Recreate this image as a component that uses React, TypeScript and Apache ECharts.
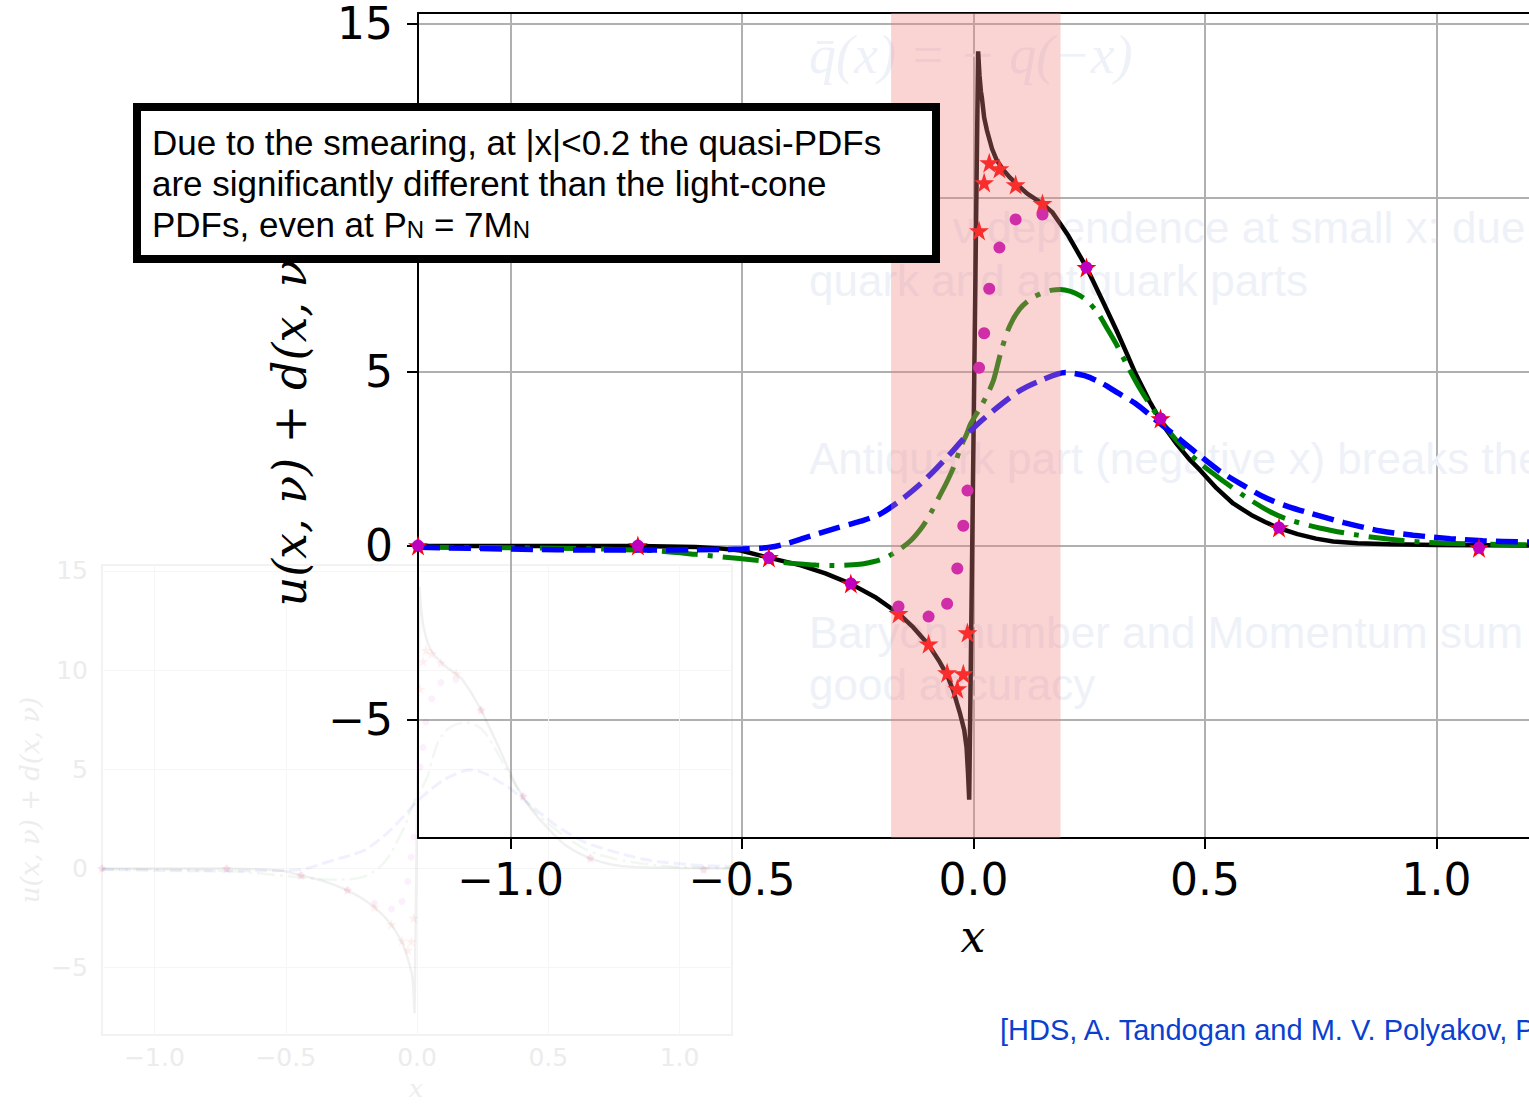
import React, { useEffect, useRef } from "react";
import * as echarts from "echarts";

// ---- light-cone PDF (black solid) ----
const blackX = [-1.2, -1.0, -0.85, -0.725, -0.6, -0.55, -0.503, -0.445, -0.373, -0.32, -0.265, -0.21, -0.162, -0.13, -0.097, -0.075, -0.056, -0.043, -0.029, -0.02, -0.015, -0.012, -0.0093,
  0.010, 0.013, 0.016, 0.018, 0.023, 0.029, 0.04, 0.0505, 0.065, 0.079, 0.1, 0.116, 0.148, 0.17, 0.187, 0.205, 0.223, 0.244, 0.258, 0.28, 0.309, 0.33, 0.35, 0.38, 0.404, 0.418, 0.44, 0.465, 0.49, 0.525, 0.561, 0.6, 0.63, 0.656, 0.7, 0.74, 0.777, 0.83, 0.9, 1.0, 1.1, 1.2];
const blackY = [-0.01, -0.01, -0.01, -0.01, -0.04, -0.08, -0.14, -0.34, -0.57, -0.8, -1.1, -1.5, -1.95, -2.35, -2.85, -3.3, -3.75, -4.2, -4.83, -5.3, -5.8, -6.5, -7.3,
  14.2, 13.5, 13.05, 12.88, 12.3, 11.93, 11.4, 11.06, 10.78, 10.57, 10.3, 10.11, 9.83, 9.58, 9.25, 8.9, 8.48, 7.99, 7.61, 7.0, 6.18, 5.55, 4.94, 4.15, 3.6, 3.3, 2.9, 2.5, 2.16, 1.65, 1.21, 0.88, 0.68, 0.52, 0.33, 0.2, 0.12, 0.07, 0.04, 0.02, 0.01, 0.0];

// ---- green dash-dot ----
const greenX = [-1.2, -1.0, -0.8, -0.7, -0.6, -0.5, -0.46, -0.4, -0.34, -0.3, -0.26, -0.237, -0.2, -0.17, -0.136, -0.11, -0.093, -0.075, -0.056, -0.04, -0.028, -0.015, -0.006, 0.015, 0.03, 0.043, 0.06, 0.078, 0.1, 0.125, 0.149, 0.17, 0.188, 0.21, 0.23, 0.248, 0.27, 0.289, 0.31, 0.33, 0.36, 0.4, 0.44, 0.49, 0.54, 0.59, 0.64, 0.68, 0.75, 0.83, 0.9, 0.98, 1.1, 1.2];
const greenY = [-0.05, -0.06, -0.1, -0.14, -0.25, -0.38, -0.43, -0.5, -0.56, -0.57, -0.55, -0.52, -0.4, -0.2, 0.14, 0.55, 0.92, 1.38, 1.87, 2.35, 2.82, 3.2, 3.5, 3.97, 4.35, 4.74, 5.6, 6.3, 6.8, 7.1, 7.26, 7.34, 7.36, 7.3, 7.18, 7.0, 6.65, 6.23, 5.75, 5.23, 4.5, 3.68, 3.0, 2.36, 1.85, 1.38, 0.98, 0.75, 0.5, 0.3, 0.18, 0.09, 0.04, 0.02];

// ---- blue dashed ----
const blueX = [-1.2, -1.0, -0.8, -0.6, -0.5, -0.44, -0.4, -0.37, -0.3, -0.244, -0.2, -0.15, -0.1, -0.05, -0.006, 0.043, 0.1, 0.145, 0.199, 0.24, 0.278, 0.31, 0.35, 0.39, 0.43, 0.48, 0.53, 0.58, 0.63, 0.68, 0.73, 0.8, 0.88, 0.95, 1.03, 1.1, 1.2];
const blueY = [-0.05, -0.1, -0.13, -0.12, -0.1, -0.05, 0.07, 0.2, 0.49, 0.7, 0.92, 1.38, 1.95, 2.64, 3.3, 3.88, 4.45, 4.74, 4.97, 4.88, 4.66, 4.4, 4.08, 3.65, 3.22, 2.68, 2.16, 1.75, 1.38, 1.12, 0.92, 0.66, 0.42, 0.3, 0.2, 0.14, 0.1];

// ---- quasi-PDF points (red stars / magenta dots) ----
const pointX = [-1.2, -0.725, -0.442, -0.265, -0.162, -0.097, -0.057, -0.035, -0.022, -0.013, 0.012, 0.023, 0.034, 0.056, 0.091, 0.149, 0.244, 0.404, 0.66, 1.092];
const starY = [0.0, 0.0, -0.34, -1.09, -1.95, -2.82, -3.65, -4.11, -3.68, -2.5, 9.05, 10.43, 11.0, 10.83, 10.37, 9.83, 7.99, 3.65, 0.52, -0.06];
const dotY = [0.0, 0.0, -0.34, -1.09, -1.75, -2.04, -1.67, -0.66, 0.57, 1.58, 5.11, 6.1, 7.38, 8.56, 9.37, 9.51, 7.99, 3.65, 0.52, -0.06];

// ---- axes / band ----
const xTicks = [-1.0, -0.5, 0.0, 0.5, 1.0];
const yTicks = [-5, 0, 5, 10, 15];
const yLabelTicks = [-5, 0, 5, 15]; // the 10 label lies hidden under the annotation box
const xRange = [-1.2, 1.2];
const yRange = [-8.4, 15.3];
const bandRange = [-0.178, 0.188];

// ---- texts ----
const boxLines = [
  "Due to the smearing, at |x|<0.2 the quasi-PDFs",
  "are significantly different than the light-cone",
  "PDFs, even at P{s|N} = 7M{s|N}",
];
const faintTexts = [
  { t: "ν dependence at small x: due", x: 953, y: 227 },
  { t: "quark and antiquark parts", x: 809, y: 280 },
  { t: "Antiquark part (negative x) breaks the", x: 809, y: 458 },
  { t: "Baryon number and Momentum sum", x: 809, y: 632 },
  { t: "good accuracy", x: 809, y: 684 },
];
const citation = "[HDS, A. Tandogan and M. V. Polyakov, P";
const yLabel = "u(x, ν) + d(x, ν)";

const STAR = "path://M0,-1L0.2245,-0.309L0.951,-0.309L0.363,0.118L0.588,0.809L0,0.382L-0.588,0.809L-0.363,0.118L-0.951,-0.309L-0.2245,-0.309Z";

const pairs = (xs: number[], ys: number[]) => xs.map((x, i) => [x, ys[i]]);
const fmtX = (v: number) => (v < 0 ? "\u2212" + Math.abs(v).toFixed(1) : Math.abs(v).toFixed(1));
const fmtY = (v: number) => (v < 0 ? "\u2212" + Math.abs(v) : String(v));

function buildSeries(xi: number, yi: number, op: number, zBase: number) {
  const main = xi === 0;
  return [
    {
      type: "line", data: pairs(blackX, blackY), xAxisIndex: xi, yAxisIndex: yi, z: zBase,
      showSymbol: false, symbol: "none", smooth: false, silent: true,
      lineStyle: { color: "#000000", width: main ? 4.5 : 2.5, opacity: op },
    },
    {
      type: "line", data: pairs(greenX, greenY), xAxisIndex: xi, yAxisIndex: yi, z: zBase + 1,
      showSymbol: false, symbol: "none", smooth: 0.3, silent: true,
      lineStyle: { color: "#008000", width: main ? 5 : 2.5, type: main ? [36, 10, 5, 10] : [18, 5, 3, 5], opacity: op },
    },
    {
      type: "line", data: pairs(blueX, blueY), xAxisIndex: xi, yAxisIndex: yi, z: zBase + 2,
      showSymbol: false, symbol: "none", smooth: 0.3, silent: true,
      lineStyle: { color: "#0000ff", width: main ? 5.5 : 3, type: main ? [22, 9] : [12, 5], opacity: op },
    },
    {
      type: "scatter", data: pairs(pointX, starY), xAxisIndex: xi, yAxisIndex: yi, z: zBase + 3,
      symbol: STAR, symbolSize: main ? 20 : 11, silent: true,
      itemStyle: { color: "#ff0000", opacity: op },
    },
    {
      type: "scatter", data: pairs(pointX, dotY), xAxisIndex: xi, yAxisIndex: yi, z: zBase + 4,
      symbol: "circle", symbolSize: main ? 12 : 7, silent: true,
      itemStyle: { color: "#bf00bf", opacity: op },
    },
  ];
}

export default function App() {
  const ref = useRef<HTMLDivElement>(null);
  useEffect(() => {
    if (!ref.current) return;
    const chart = echarts.init(ref.current, undefined, { renderer: "svg" });
    const ghostLabel = { color: "#ececec", fontFamily: "DejaVu Sans", fontSize: 25 };
    const option: any = {
      animation: false,
      backgroundColor: "#ffffff",
      grid: [
        { left: 418, top: 13, width: 1111, height: 825, show: false, outerBoundsMode: "none" },
        { left: 102, top: 565, width: 630, height: 470, show: true, borderColor: "#f2f2f2", borderWidth: 2, backgroundColor: "transparent", outerBoundsMode: "none" },
      ],
      xAxis: [
        {
          type: "value", gridIndex: 0, min: xRange[0], max: xRange[1], position: "bottom",
          axisLine: { show: true, onZero: false, lineStyle: { color: "#000", width: 2 } },
          axisTick: { show: true, length: 11, customValues: xTicks, lineStyle: { color: "#000", width: 2 } },
          axisLabel: { customValues: xTicks, formatter: fmtX, fontFamily: "DejaVu Sans", fontSize: 44, color: "#000", margin: 19 },
          splitLine: { show: true, lineStyle: { color: "#b0b0b0", width: 2 } },
        },
        {
          type: "value", gridIndex: 0, min: xRange[0], max: xRange[1], position: "top",
          axisLine: { show: true, onZero: false, lineStyle: { color: "#000", width: 2 } },
          axisTick: { show: false }, axisLabel: { show: false }, splitLine: { show: false },
        },
        {
          type: "value", gridIndex: 1, min: xRange[0], max: xRange[1], position: "bottom",
          axisLine: { show: false, onZero: false },
          axisTick: { show: false, customValues: xTicks },
          axisLabel: { ...ghostLabel, customValues: xTicks, formatter: fmtX, margin: 10 },
          splitLine: { show: true, lineStyle: { color: "#f6f6f6", width: 1 } },
        },
      ],
      yAxis: [
        {
          type: "value", gridIndex: 0, min: yRange[0], max: yRange[1],
          axisLine: { show: true, onZero: false, lineStyle: { color: "#000", width: 2 } },
          axisTick: { show: true, length: 11, customValues: yTicks, lineStyle: { color: "#000", width: 2 } },
          axisLabel: { customValues: yLabelTicks, formatter: fmtY, fontFamily: "DejaVu Sans", fontSize: 44, color: "#000", margin: 25 },
          splitLine: { show: true, lineStyle: { color: "#b0b0b0", width: 2 } },
        },
        {
          type: "value", gridIndex: 1, min: yRange[0], max: yRange[1],
          axisLine: { show: false, onZero: false },
          axisTick: { show: false, customValues: yTicks },
          axisLabel: { ...ghostLabel, customValues: yTicks, formatter: fmtY, margin: 14 },
          splitLine: { show: true, lineStyle: { color: "#f6f6f6", width: 1 } },
        },
      ],
      series: [
        ...buildSeries(2, 1, 0.06, 1),
        ...buildSeries(0, 0, 1, 3),
        {
          type: "custom", xAxisIndex: 0, yAxisIndex: 0, z: 20, silent: true,
          data: [[bandRange[0], bandRange[1]]],
          renderItem: (_params: any, api: any) => {
            const p0 = api.coord([api.value(0), yRange[1]]);
            const p1 = api.coord([api.value(1), yRange[0]]);
            return {
              type: "rect",
              shape: { x: p0[0], y: p0[1], width: p1[0] - p0[0], height: p1[1] - p0[1] },
              style: { fill: "rgba(240,128,128,0.35)" },
            };
          },
        },
      ],
      graphic: [
        // faint background annotations
        {
          type: "text", x: 809, y: 55, z: 1, silent: true,
          style: { text: "q\u0304(x) = \u2212 q(\u2212x)", fill: "#eef2f8", fontFamily: "Liberation Serif", fontStyle: "italic", fontSize: 54, align: "left", verticalAlign: "middle" },
        },
        ...faintTexts.map((f) => ({
          type: "text", x: f.x, y: f.y, z: 1, silent: true,
          style: { text: f.t, fill: "#eef2f8", fontFamily: "Liberation Sans", fontSize: 44, align: "left", verticalAlign: "middle" },
        })),
        // ghost axis names
        {
          type: "text", x: 30, y: 800, rotation: Math.PI / 2, z: 1, silent: true,
          style: { text: yLabel, fill: "#ededed", fontFamily: "DejaVu Serif", fontStyle: "italic", fontSize: 26, align: "center", verticalAlign: "middle" },
        },
        {
          type: "text", x: 416, y: 1088, z: 1, silent: true,
          style: { text: "x", fill: "#ededed", fontFamily: "DejaVu Serif", fontStyle: "italic", fontSize: 25, align: "center", verticalAlign: "middle" },
        },
        // main axis names
        {
          type: "text", x: 290, y: 424, rotation: Math.PI / 2, z: 50, silent: true,
          style: { text: yLabel, fill: "#000", fontFamily: "DejaVu Serif", fontStyle: "italic", fontSize: 46, align: "center", verticalAlign: "middle" },
        },
        {
          type: "text", x: 973, y: 936, z: 50, silent: true,
          style: { text: "x", fill: "#000", fontFamily: "DejaVu Serif", fontStyle: "italic", fontSize: 44, align: "center", verticalAlign: "middle" },
        },
        // annotation box
        {
          type: "rect", z: 100, silent: true,
          shape: { x: 137, y: 107, width: 799, height: 152 },
          style: { fill: "#ffffff", stroke: "#000000", lineWidth: 8 },
        },
        ...boxLines.map((t, i) => ({
          type: "text", x: 152, y: 142 + i * 41, z: 101, silent: true,
          style: {
            text: t, fill: "#000", fontFamily: "Liberation Sans", fontSize: 35, align: "left", verticalAlign: "middle",
            rich: { s: { fontFamily: "Liberation Sans", fontSize: 24, fill: "#000", verticalAlign: "bottom" } },
          },
        })),
        // citation
        {
          type: "text", x: 1000, y: 1030, z: 50, silent: true,
          style: { text: citation, fill: "#0b3fd0", fontFamily: "Liberation Sans", fontSize: 29, align: "left", verticalAlign: "middle" },
        },
      ],
    };
    chart.setOption(option);
    return () => chart.dispose();
  }, []);
  return <div ref={ref} style={{ position: "absolute", left: 0, top: 0, width: 1529, height: 1104 }} />;
}
